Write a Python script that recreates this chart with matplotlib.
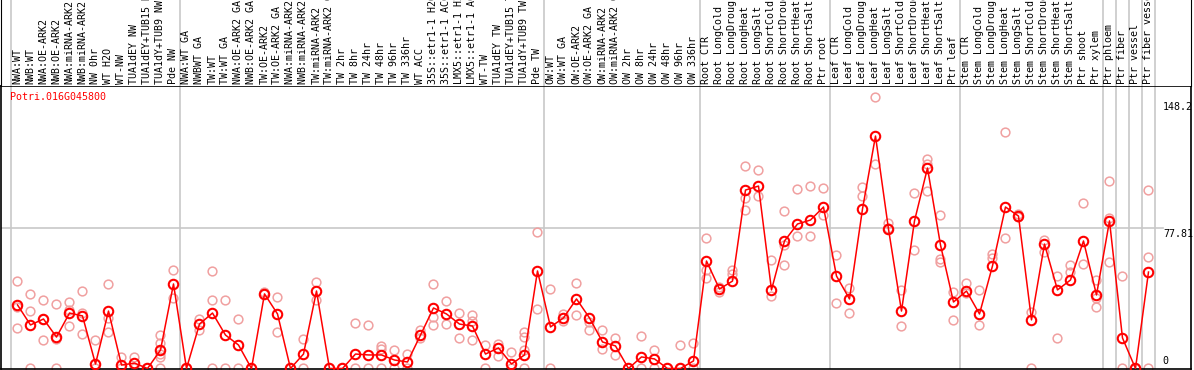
import numpy as np
import matplotlib
matplotlib.use("Agg")
import matplotlib.pyplot as plt

gene = "Potri.016G045800"

samples = [
    "NWA:WT", "NWB:WT", "NWA:OE-ARK2", "NWB:OE-ARK2", "NWA:miRNA-ARK2", "NWB:miRNA-ARK2",
    "NW 0hr", "WT H2O", "WT-NW", "TUA1dEY NW", "TUA1dEY+TUB15 NW", "TUA1dY+TUB9 NW", "Pde NW",
    "NWA:WT GA", "NWBWT GA", "TW:WT", "TW:WT GA", "NWA:OE-ARK2 GA", "NWB:OE-ARK2 GA",
    "TW:OE-ARK2", "TW:OE-ARK2 GA", "NWA:miRNA-ARK2 GA", "NWB:miRNA-ARK2 GA", "TW:miRNA-ARK2",
    "TW:miRNA-ARK2 GA", "TW 2hr", "TW 8hr", "TW 24hr", "TW 48hr", "TW 96hr", "TW 336hr",
    "WT ACC", "35S::etr1-1 H2O", "35S::etr1-1 ACC", "LMX5::etr1-1 H2O", "LMX5::etr1-1 ACC",
    "WT-TW", "TUA1dEY TW", "TUA1dEY+TUB15 TW", "TUA1dY+TUB9 TW", "Pde TW",
    "OW:WT", "OW:WT GA", "OW:OE-ARK2", "OW:OE-ARK2 GA", "OW:miRNA-ARK2", "OW:miRNA-ARK2 GA",
    "OW 2hr", "OW 8hr", "OW 24hr", "OW 48hr", "OW 96hr", "OW 336hr",
    "Root CTR", "Root LongCold", "Root LongDrought", "Root LongHeat", "Root LongSalt",
    "Root ShortCold", "Root ShortDrought", "Root ShortHeat", "Root ShortSalt", "Ptr root",
    "Leaf CTR", "Leaf LongCold", "Leaf LongDrought", "Leaf LongHeat", "Leaf LongSalt",
    "Leaf ShortCold", "Leaf ShortDrought", "Leaf ShortHeat", "Leaf ShortSalt", "Ptr leaf",
    "Stem CTR", "Stem LongCold", "Stem LongDrought", "Stem LongHeat", "Stem LongSalt",
    "Stem ShortCold", "Stem ShortDrought", "Stem ShortHeat", "Stem ShortSalt", "Ptr shoot",
    "Ptr xylem", "Ptr phloem", "Ptr fiber", "Ptr vessel", "Ptr fiber vessel",
]

# group boundaries (index of last sample in each group)
group_ends = [-1, 12, 40, 52, 62, 72, 83, 84, 85, 86, 87]

means = [
    35.2, 24.1, 27.4, 17.4, 30.7, 29.1, 2.5, 31.8, 1.9, 3.0, 0.0, 10.2, 46.8,
    0.0, 24.6, 30.7, 18.5, 13.0, 0.0, 41.3, 30.2, 0.0, 8.0, 42.9, 0.0, 0.0,
    8.0, 7.5, 7.5, 4.7, 3.6, 18.5, 33.5, 30.2, 24.6, 23.5, 8.0, 11.4, 2.5, 7.5, 54.0,
    23.0, 28.0, 38.5, 28.0, 14.7, 12.5, 0.0, 6.4, 5.3, 0.0, 0.0, 4.2,
    59.5, 44.0, 48.4, 98.8, 101.0, 43.5, 70.6, 80.0, 82.2, 89.4,
    51.2, 38.5, 88.3, 128.7, 77.2, 31.8, 81.7, 111.0, 68.4, 36.8,
    42.9, 30.2, 56.8, 89.4, 84.4, 26.9, 68.9, 43.5, 49.0, 70.6, 40.7,
    81.7, 16.9, 0.0, 53.4,
]

reps = [
    [48.4, 34.1, 22.4], [41.3, 31.8, 0.0], [37.9, 27.4, 15.8], [35.7, 16.5, 0.0],
    [36.8, 32.4, 23.5], [42.9, 30.7, 19.1], [15.8, 0.0], [46.8, 27.9, 20.2],
    [6.4, 0.0], [6.4, 0.0], [0.0], [18.5, 14.1, 8.0, 6.4, 0.0], [54.5, 39.0],
    [0.0], [27.4, 21.3], [54.0, 37.9, 0.0], [37.9, 0.0], [27.4, 0.0], [0.0],
    [42.4, 41.3], [39.6, 20.2], [0.0], [16.3, 0.0], [47.9, 37.9], [0.0], [0.0],
    [25.2, 0.0], [24.1, 0.0], [12.5, 10.8, 0.0], [10.2, 0.0], [8.0, 0.0],
    [21.3, 16.9], [46.8, 28.5, 24.1], [37.4, 24.6], [30.7, 16.9], [29.6, 26.3, 15.8],
    [13.0, 0.0], [13.6, 6.9], [9.1, 0.0], [20.2, 17.4, 10.2, 0.0], [75.6, 32.9],
    [44.0, 0.0], [30.2, 26.3], [47.3, 29.6], [25.7, 21.3], [21.3, 10.8], [16.9, 7.5],
    [0.0], [18.0, 0.0], [10.2, 0.0], [0.0], [13.0, 0.0], [14.1, 0.0],
    [72.2, 54.5, 50.1], [45.1, 42.4], [54.5, 52.3], [112.1, 94.4, 87.8], [109.9, 95.5],
    [60.1, 40.1], [87.2, 68.4, 57.3], [99.4, 73.4], [101.0, 73.4], [99.9, 85.0],
    [62.8, 36.3], [44.6, 30.7], [100.5, 95.5], [150.3, 113.2], [80.6, 77.8],
    [43.5, 23.5], [97.2, 65.6], [115.9, 113.2, 98.3], [85.0, 60.6, 58.9], [42.4, 26.9],
    [47.3, 41.8], [43.5, 24.1], [63.4, 61.2], [130.9, 72.2], [85.5, 83.9], [31.3, 0.0],
    [71.1, 64.5], [51.2, 16.9], [57.3, 53.4], [91.6, 57.9], [49.0, 39.0, 34.1],
    [103.8, 83.3, 58.9], [51.2, 0.0], [0.0], [98.8, 61.7, 0.0],
]

y_max = 148.2
y_mid = 77.81

W, H = 1194, 370
fig = plt.figure(figsize=(W / 100, H / 100), dpi=100)
mono = "DejaVu Sans Mono"

x = np.arange(len(samples))
xlim = (-1.269, 90.27)

ax = fig.add_axes([1 / W, 1 / H, 1190 / W, 283 / H])
ax.set_xlim(*xlim)
ax.set_ylim(-0.28, 156.4)
ax.set_xticks([])
ax.set_yticks([])
for s in ax.spines.values():
    s.set_color("black")
    s.set_linewidth(1.2)

for g in group_ends:
    ax.axvline(g + 0.5, color="#c8c8c8", lw=1.2, zorder=0)
ax.plot([xlim[0], 88.1], [y_mid, y_mid], color="#c8c8c8", lw=1.2, zorder=0)

for i, r in enumerate(reps):
    ax.plot([i] * len(r), r, "o", mfc="none", mec="#f0a0a0", mew=1.1, ms=6.3,
            zorder=2, clip_on=False)
ax.plot(x, means, "-", color="red", lw=1.1, zorder=3)
ax.plot(x, means, "o", mfc="none", mec="red", mew=1.5, ms=6.8, zorder=4, clip_on=False)

ax.text(-0.6, 150.3, gene, color="red", fontsize=7.2, family=mono, va="center", ha="left")
ax.text(88.1, y_max - 0.5, "148.2", fontsize=7.2, family=mono, va="top", ha="left")
ax.text(88.15, y_mid - 0.6, "77.81", fontsize=7.2, family=mono, va="top", ha="left")
ax.text(88.1, 1.2, "0", fontsize=7.2, family=mono, va="bottom", ha="left")

hdr = fig.add_axes([1 / W, 284 / H, 1190 / W, 86 / H])
hdr.set_xlim(*xlim)
hdr.set_ylim(0, 86)
hdr.set_xticks([])
hdr.set_yticks([])
hdr.spines["top"].set_visible(False)
hdr.spines["bottom"].set_visible(False)
for g in group_ends:
    hdr.axvline(g + 0.5, color="#c8c8c8", lw=1.2, zorder=0)
for i, lab in enumerate(samples):
    hdr.text(i, 1.5, lab, rotation=90, fontsize=7.2, family=mono,
             ha="center", va="bottom", clip_on=True)

fig.savefig("out.png", dpi=100)
